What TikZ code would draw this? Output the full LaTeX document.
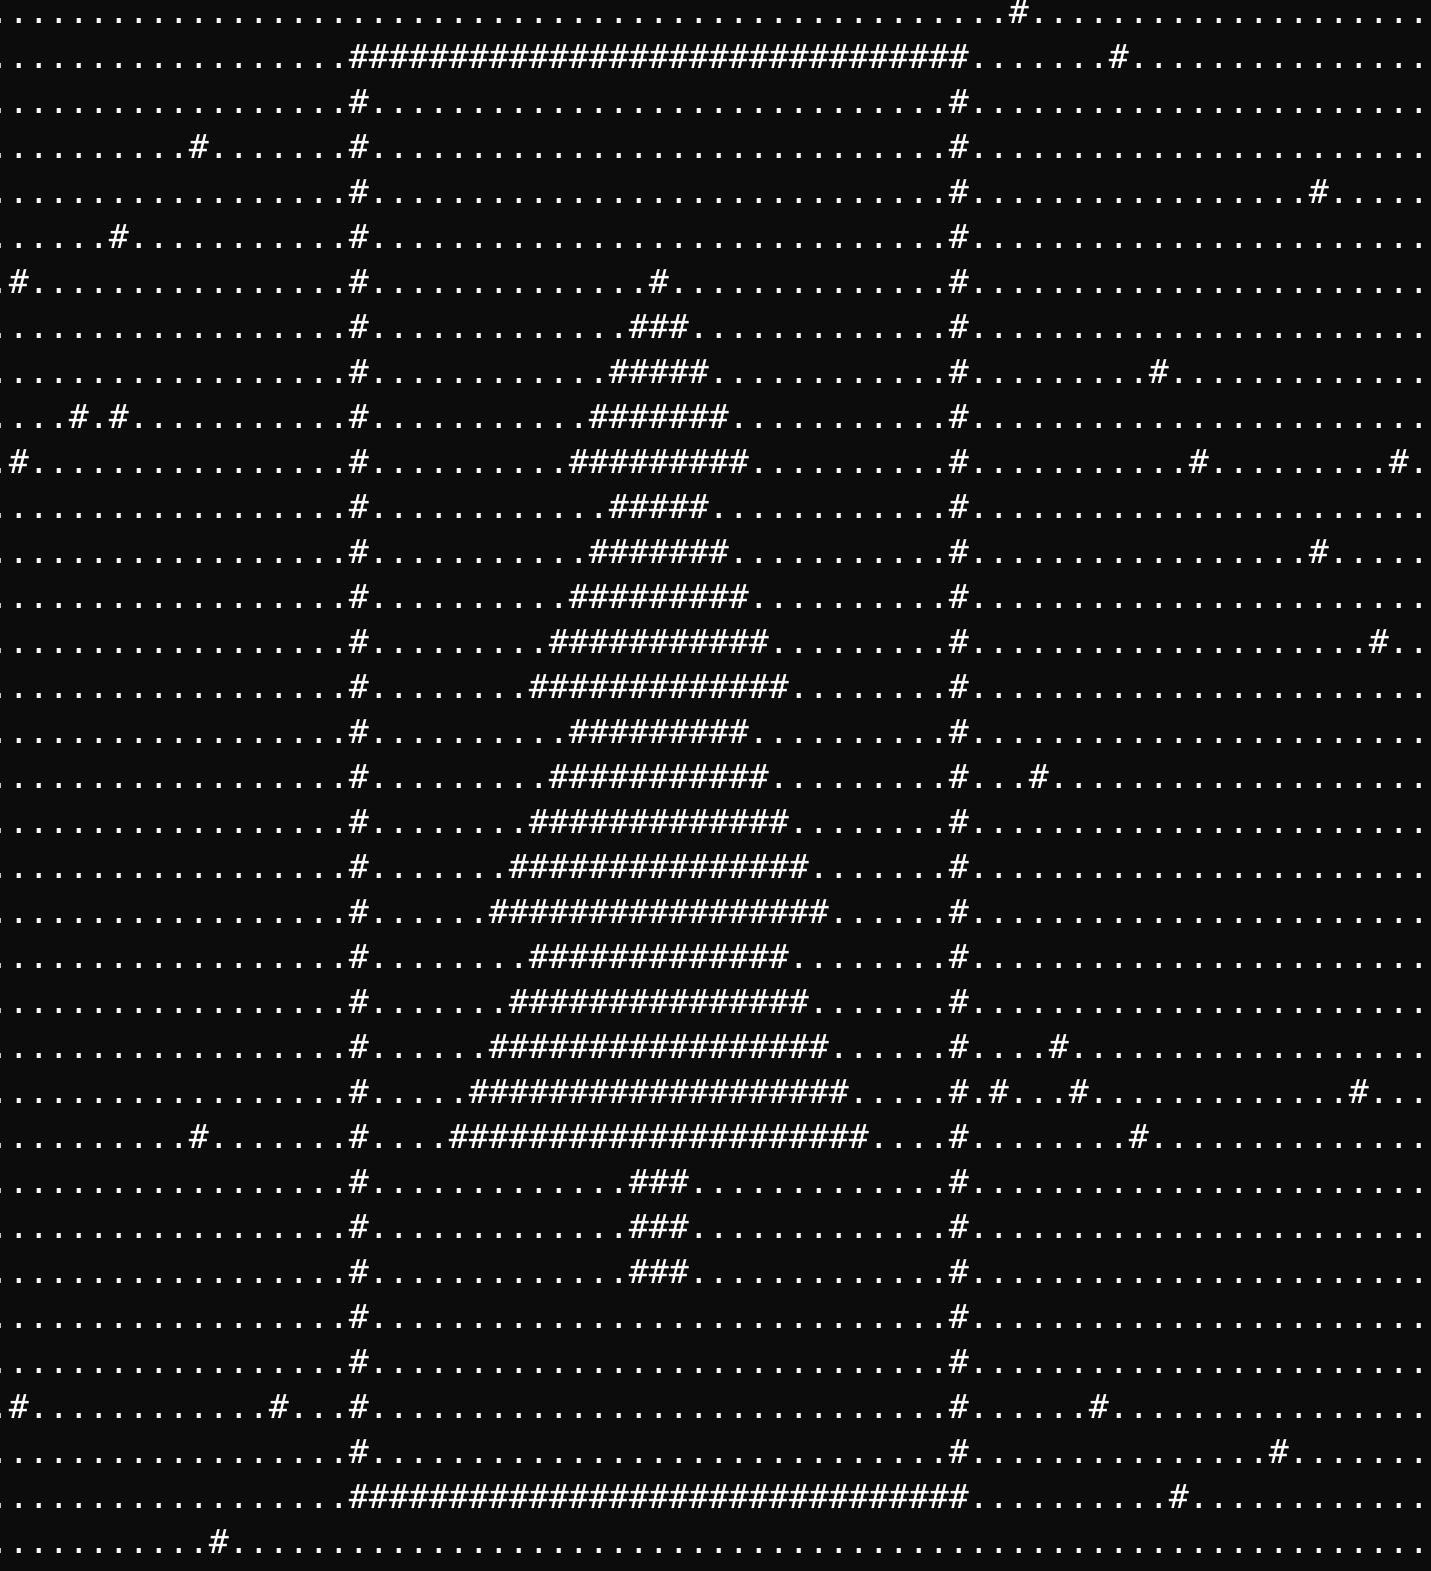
\documentclass[tikz,border=0pt]{standalone}
\usepackage{fontspec}
\newfontfamily\termfont{DejaVu Sans Mono}
\definecolor{termbg}{HTML}{0C0C0C}
\definecolor{termfg}{HTML}{FFFFFF}
\ExplSyntaxOn
\NewDocumentCommand\Dt{m}{\prg_replicate:nn{#1}{.}}
\NewDocumentCommand\Hs{m}{\prg_replicate:nn{#1}{\#}}
\ExplSyntaxOff
\tikzset{rowtext/.style={anchor=base west, inner sep=0pt, outer sep=0pt, text=termfg,
  font=\termfont\fontsize{33.22}{45}\selectfont}}
\begin{document}
\begin{tikzpicture}[x=1pt,y=-1pt]
\fill[termbg] (0,0) rectangle (1431,1571);
\useasboundingbox (0,0) rectangle (1431,1571);
\clip (0,0) rectangle (1431,1571);
\node[rowtext] (r0)  at (-11,23.3)   {\Dt{51}\Hs{1}\Dt{20}};
\node[rowtext] (r1)  at (-11,68.3)   {\Dt{18}\Hs{31}\Dt{7}\Hs{1}\Dt{15}};
\node[rowtext] (r2)  at (-11,113.3)  {\Dt{18}\Hs{1}\Dt{29}\Hs{1}\Dt{23}};
\node[rowtext] (r3)  at (-11,158.3)  {\Dt{10}\Hs{1}\Dt{7}\Hs{1}\Dt{29}\Hs{1}\Dt{23}};
\node[rowtext] (r4)  at (-11,203.3)  {\Dt{18}\Hs{1}\Dt{29}\Hs{1}\Dt{17}\Hs{1}\Dt{5}};
\node[rowtext] (r5)  at (-11,248.3)  {\Dt{6}\Hs{1}\Dt{11}\Hs{1}\Dt{29}\Hs{1}\Dt{23}};
\node[rowtext] (r6)  at (-11,293.3)  {\Dt{1}\Hs{1}\Dt{16}\Hs{1}\Dt{14}\Hs{1}\Dt{14}\Hs{1}\Dt{23}};
\node[rowtext] (r7)  at (-11,338.3)  {\Dt{18}\Hs{1}\Dt{13}\Hs{3}\Dt{13}\Hs{1}\Dt{23}};
\node[rowtext] (r8)  at (-11,383.3)  {\Dt{18}\Hs{1}\Dt{12}\Hs{5}\Dt{12}\Hs{1}\Dt{9}\Hs{1}\Dt{13}};
\node[rowtext] (r9)  at (-11,428.3)  {\Dt{4}\Hs{1}\Dt{1}\Hs{1}\Dt{11}\Hs{1}\Dt{11}\Hs{7}\Dt{11}\Hs{1}\Dt{23}};
\node[rowtext] (r10) at (-11,473.3)  {\Dt{1}\Hs{1}\Dt{16}\Hs{1}\Dt{10}\Hs{9}\Dt{10}\Hs{1}\Dt{11}\Hs{1}\Dt{9}\Hs{1}\Dt{1}};
\node[rowtext] (r11) at (-11,518.3)  {\Dt{18}\Hs{1}\Dt{12}\Hs{5}\Dt{12}\Hs{1}\Dt{23}};
\node[rowtext] (r12) at (-11,563.3)  {\Dt{18}\Hs{1}\Dt{11}\Hs{7}\Dt{11}\Hs{1}\Dt{17}\Hs{1}\Dt{5}};
\node[rowtext] (r13) at (-11,608.3)  {\Dt{18}\Hs{1}\Dt{10}\Hs{9}\Dt{10}\Hs{1}\Dt{23}};
\node[rowtext] (r14) at (-11,653.3)  {\Dt{18}\Hs{1}\Dt{9}\Hs{11}\Dt{9}\Hs{1}\Dt{20}\Hs{1}\Dt{2}};
\node[rowtext] (r15) at (-11,698.3)  {\Dt{18}\Hs{1}\Dt{8}\Hs{13}\Dt{8}\Hs{1}\Dt{23}};
\node[rowtext] (r16) at (-11,743.3)  {\Dt{18}\Hs{1}\Dt{10}\Hs{9}\Dt{10}\Hs{1}\Dt{23}};
\node[rowtext] (r17) at (-11,788.3)  {\Dt{18}\Hs{1}\Dt{9}\Hs{11}\Dt{9}\Hs{1}\Dt{3}\Hs{1}\Dt{19}};
\node[rowtext] (r18) at (-11,833.3)  {\Dt{18}\Hs{1}\Dt{8}\Hs{13}\Dt{8}\Hs{1}\Dt{23}};
\node[rowtext] (r19) at (-11,878.3)  {\Dt{18}\Hs{1}\Dt{7}\Hs{15}\Dt{7}\Hs{1}\Dt{23}};
\node[rowtext] (r20) at (-11,923.3)  {\Dt{18}\Hs{1}\Dt{6}\Hs{17}\Dt{6}\Hs{1}\Dt{23}};
\node[rowtext] (r21) at (-11,968.3)  {\Dt{18}\Hs{1}\Dt{8}\Hs{13}\Dt{8}\Hs{1}\Dt{23}};
\node[rowtext] (r22) at (-11,1013.3) {\Dt{18}\Hs{1}\Dt{7}\Hs{15}\Dt{7}\Hs{1}\Dt{23}};
\node[rowtext] (r23) at (-11,1058.3) {\Dt{18}\Hs{1}\Dt{6}\Hs{17}\Dt{6}\Hs{1}\Dt{4}\Hs{1}\Dt{18}};
\node[rowtext] (r24) at (-11,1103.3) {\Dt{18}\Hs{1}\Dt{5}\Hs{19}\Dt{5}\Hs{1}\Dt{1}\Hs{1}\Dt{3}\Hs{1}\Dt{13}\Hs{1}\Dt{3}};
\node[rowtext] (r25) at (-11,1148.3) {\Dt{10}\Hs{1}\Dt{7}\Hs{1}\Dt{4}\Hs{21}\Dt{4}\Hs{1}\Dt{8}\Hs{1}\Dt{14}};
\node[rowtext] (r26) at (-11,1193.3) {\Dt{18}\Hs{1}\Dt{13}\Hs{3}\Dt{13}\Hs{1}\Dt{23}};
\node[rowtext] (r27) at (-11,1238.3) {\Dt{18}\Hs{1}\Dt{13}\Hs{3}\Dt{13}\Hs{1}\Dt{23}};
\node[rowtext] (r28) at (-11,1283.3) {\Dt{18}\Hs{1}\Dt{13}\Hs{3}\Dt{13}\Hs{1}\Dt{23}};
\node[rowtext] (r29) at (-11,1328.3) {\Dt{18}\Hs{1}\Dt{29}\Hs{1}\Dt{23}};
\node[rowtext] (r30) at (-11,1373.3) {\Dt{18}\Hs{1}\Dt{29}\Hs{1}\Dt{23}};
\node[rowtext] (r31) at (-11,1418.3) {\Dt{1}\Hs{1}\Dt{12}\Hs{1}\Dt{3}\Hs{1}\Dt{29}\Hs{1}\Dt{6}\Hs{1}\Dt{16}};
\node[rowtext] (r32) at (-11,1463.3) {\Dt{18}\Hs{1}\Dt{29}\Hs{1}\Dt{15}\Hs{1}\Dt{7}};
\node[rowtext] (r33) at (-11,1508.3) {\Dt{18}\Hs{31}\Dt{10}\Hs{1}\Dt{12}};
\node[rowtext] (r34) at (-11,1553.3) {\Dt{11}\Hs{1}\Dt{60}};
\end{tikzpicture}
\end{document}
